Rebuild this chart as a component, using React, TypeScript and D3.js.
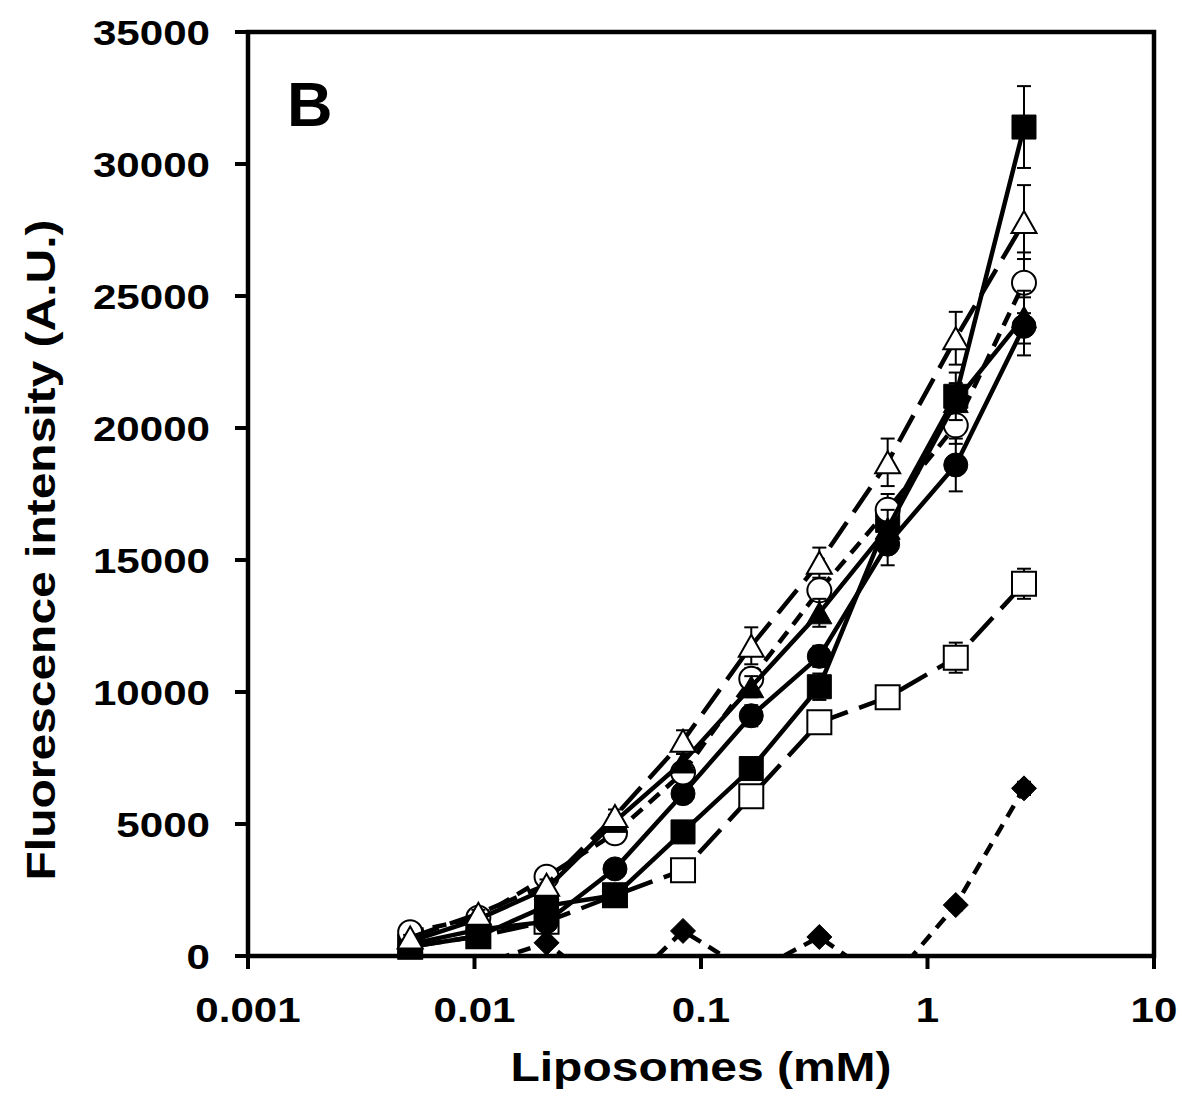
import React, { useEffect, useRef } from 'react';
import * as d3 from 'd3';

// liposome concentrations (mM), two-fold dilution series
const conc = [0.0052, 0.0104, 0.0208, 0.0417, 0.0833, 0.1667, 0.333, 0.667, 1.333, 2.667];

const openSquare = [350, 750, 1300, 2300, 3250, 6050, 8850, 9800, 11300, 14100];
const openSquareErr = [100, 100, 150, 200, 250, 300, 300, 300, 570, 570];

const diamond = [-400, -350, 500, -1550, 950, -650, 720, -1100, 1930, 6350];
const diamondErr = [100, 100, 100, 100, 150, 100, 150, 100, 200, 250];

const filledCircle = [450, 1000, 1300, 3300, 6150, 9100, 11350, 15600, 18600, 23850];
const filledCircleErr = [100, 150, 200, 250, 300, 400, 400, 800, 1000, 1100];

const filledSquare = [350, 750, 1900, 2300, 4700, 7100, 10200, 16500, 21200, 31400];
const filledSquareErr = [100, 150, 200, 250, 300, 400, 500, 700, 900, 1550];

const openCircle = [900, 1450, 3000, 4650, 6950, 10500, 13850, 16900, 20100, 25500];
const openCircleErr = [100, 150, 200, 250, 300, 400, 400, 600, 700, 1150];

const filledTriangle = [550, 1400, 2550, 5100, 7350, 10200, 13000, 16200, 21000, 24200];
const filledTriangleErr = [100, 150, 200, 250, 300, 400, 530, 700, 700, 1000];

const openTriangle = [700, 1600, 2700, 5300, 8150, 11750, 14900, 18700, 23400, 27800];
const openTriangleErr = [100, 150, 200, 250, 400, 700, 570, 900, 1000, 1400];

const yTicks = [0, 5000, 10000, 15000, 20000, 25000, 30000, 35000];
const xTicks = [0.001, 0.01, 0.1, 1, 10];
const xTickLabels = ['0.001', '0.01', '0.1', '1', '10'];

type Shape = 'square' | 'circle' | 'triangle' | 'diamond';

const series: { values: number[]; err: number[]; shape: Shape; filled: boolean; dash: string | null }[] = [
  { values: openSquare, err: openSquareErr, shape: 'square', filled: false, dash: '32,12' },
  { values: diamond, err: diamondErr, shape: 'diamond', filled: true, dash: '13,9' },
  { values: filledCircle, err: filledCircleErr, shape: 'circle', filled: true, dash: null },
  { values: filledSquare, err: filledSquareErr, shape: 'square', filled: true, dash: null },
  { values: openCircle, err: openCircleErr, shape: 'circle', filled: false, dash: '14,9' },
  { values: filledTriangle, err: filledTriangleErr, shape: 'triangle', filled: true, dash: null },
  { values: openTriangle, err: openTriangleErr, shape: 'triangle', filled: false, dash: '30,12' },
];

const FONT = '"Liberation Sans", Arial, sans-serif';
const STRETCH = 1.17;

function markerPath(shape: Shape): string {
  if (shape === 'square') return 'M-12,-12H12V12H-12Z';
  if (shape === 'triangle') return 'M0,-11L12.5,11H-12.5Z';
  if (shape === 'diamond') return 'M0,-12.5L12.5,0L0,12.5L-12.5,0Z';
  return d3.symbol(d3.symbolCircle, Math.PI * 12 * 12)() as string;
}

const App: React.FC = () => {
  const svgRef = useRef<SVGSVGElement>(null);

  useEffect(() => {
    if (!svgRef.current) return;
    const svg = d3.select(svgRef.current);
    svg.selectAll('*').remove();

    const left = 248, right = 1154, top = 32, bottom = 956;

    const x = d3.scaleLog().domain([0.001, 10]).range([left, right]);
    const y = d3.scaleLinear().domain([0, 35000]).range([bottom, top]);

    svg.append('defs').append('clipPath').attr('id', 'plot-clip')
      .append('rect')
      .attr('x', left).attr('y', top)
      .attr('width', right - left).attr('height', bottom - top);

    // frame
    svg.append('rect')
      .attr('x', left).attr('y', top)
      .attr('width', right - left).attr('height', bottom - top)
      .attr('fill', 'none')
      .attr('stroke', '#000')
      .attr('stroke-width', 4.5);

    // y ticks + labels
    yTicks.forEach(t => {
      svg.append('line')
        .attr('x1', left - 13).attr('x2', left)
        .attr('y1', y(t)).attr('y2', y(t))
        .attr('stroke', '#000').attr('stroke-width', 4);
      svg.append('text')
        .attr('transform', `translate(210,${y(t)}) scale(${STRETCH},1)`)
        .attr('dy', '0.36em')
        .attr('text-anchor', 'end')
        .style('font-family', FONT)
        .style('font-weight', 'bold')
        .style('font-size', '36px')
        .text(String(t));
    });

    // x ticks + labels
    xTicks.forEach((t, i) => {
      svg.append('line')
        .attr('x1', x(t)).attr('x2', x(t))
        .attr('y1', bottom).attr('y2', bottom + 13)
        .attr('stroke', '#000').attr('stroke-width', 4);
      svg.append('text')
        .attr('transform', `translate(${x(t)},1022) scale(${STRETCH},1)`)
        .attr('text-anchor', 'middle')
        .style('font-family', FONT)
        .style('font-weight', 'bold')
        .style('font-size', '36px')
        .text(xTickLabels[i]);
    });

    // axis titles
    svg.append('text')
      .attr('transform', `translate(701,1081) scale(${STRETCH},1)`)
      .attr('text-anchor', 'middle')
      .style('font-family', FONT)
      .style('font-weight', 'bold')
      .style('font-size', '41px')
      .text('Liposomes (mM)');

    svg.append('text')
      .attr('transform', `translate(55,550) rotate(-90) scale(${STRETCH},1)`)
      .attr('text-anchor', 'middle')
      .style('font-family', FONT)
      .style('font-weight', 'bold')
      .style('font-size', '41px')
      .text('Fluorescence intensity (A.U.)');

    // panel letter
    svg.append('text')
      .attr('x', 287).attr('y', 126)
      .style('font-family', FONT)
      .style('font-weight', 'bold')
      .style('font-size', '63px')
      .text('B');

    const line = d3.line<number>()
      .x((_, i) => x(conc[i]))
      .y(d => y(d));

    series.forEach(s => {
      const g = svg.append('g');

      g.append('path')
        .datum(s.values)
        .attr('clip-path', 'url(#plot-clip)')
        .attr('fill', 'none')
        .attr('stroke', '#000')
        .attr('stroke-width', 4.5)
        .attr('stroke-dasharray', s.dash)
        .attr('d', line);

      const pts = s.values.map((v, i) => ({ v, e: s.err[i], c: conc[i] })).filter(p => p.v >= 0);

      // error bars
      const eb = g.selectAll('.eb').data(pts).join('g')
        .attr('transform', d => `translate(${x(d.c)},0)`)
        .attr('stroke', '#000')
        .attr('stroke-width', 2);
      eb.append('line')
        .attr('y1', d => y(d.v + d.e)).attr('y2', d => y(Math.max(0, d.v - d.e)));
      eb.append('line')
        .attr('x1', -7).attr('x2', 7)
        .attr('y1', d => y(d.v + d.e)).attr('y2', d => y(d.v + d.e));
      eb.filter(d => d.v - d.e > 0).append('line')
        .attr('x1', -7).attr('x2', 7)
        .attr('y1', d => y(d.v - d.e)).attr('y2', d => y(d.v - d.e));

      // markers
      g.selectAll('.mk').data(pts).join('path')
        .attr('transform', d => `translate(${x(d.c)},${y(d.v)})`)
        .attr('d', markerPath(s.shape))
        .attr('fill', s.filled ? '#000' : '#fff')
        .attr('stroke', '#000')
        .attr('stroke-width', s.filled ? 1 : 2);
    });
  }, []);

  return (
    <div style={{ position: 'absolute', left: 0, top: 0, background: '#fff' }}>
      <svg ref={svgRef} width={1182} height={1097} style={{ display: 'block' }} />
    </div>
  );
};

export default App;
